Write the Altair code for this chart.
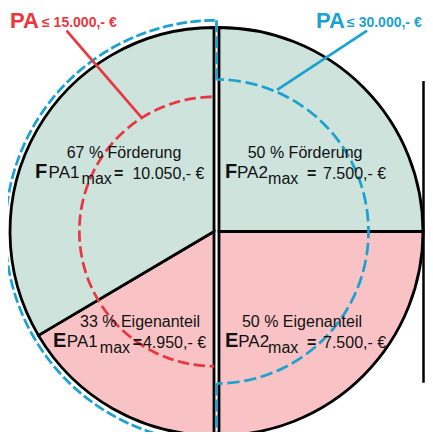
import math
import altair as alt
import pandas as pd

# ---------------- data ----------------
programmes = ["PA1", "PA2"]
pa_limits = ["15.000,- €", "30.000,- €"]
foerder_pct = [67, 50]
eigen_pct = [33, 50]
foerder_max = ["10.050,- €", "7.500,- €"]
eigen_max = ["4.950,- €", "7.500,- €"]

# ---------------- style / layout ----------------
W, H = 417, 424        # keep the page free of scrollbars
UNIT = 204.0           # px per unit radius
CX, CY = 208.5, 223.5  # svg position of the circle's middle
HALF = 2.5 / UNIT      # half gap between the two half discs
GREEN, PINK = "#cde3dc", "#f9c3c6"
RED, BLUE, INK = "#e8373f", "#1ba2d0", "#111111"
FONT = "Liberation Sans"

R_RED, R_BLUE_IN, R_BLUE_OUT = 0.66, 0.745, 1.035

xs = alt.Scale(domain=[-CX / UNIT, (W - CX) / UNIT], nice=False, zero=False)
ys = alt.Scale(domain=[-(H - CY) / UNIT, CY / UNIT], nice=False, zero=False)
ts = alt.Scale(domain=[0, 100], range=[0, 2 * math.pi])
rs = alt.Scale(type="linear", domain=[0, 1], range=[0, UNIT])

X = lambda f: alt.X(f, scale=xs, axis=None)
Y = lambda f: alt.Y(f, scale=ys, axis=None)

# ---------------- sectors ----------------
seq = [
    ("PA2", "Förderung", foerder_pct[1], GREEN, +1),
    ("PA2", "Eigenanteil", eigen_pct[1], PINK, +1),
    ("PA1", "Eigenanteil", eigen_pct[0], PINK, -1),
    ("PA1", "Förderung", foerder_pct[0], GREEN, -1),
]
rows, t = [], 0.0
for prog, part, pct, col, side in seq:
    share = pct / 2
    rows.append(dict(prog=prog, part=part, t0=t, t1=t + share,
                     cx=side * HALF, cy=0.0, r=1.0, col=col))
    t += share
sectors = pd.DataFrame(rows)

fills = alt.Chart(sectors).mark_arc(stroke="black", strokeWidth=2.8).encode(
    x=X("cx:Q"), y=Y("cy:Q"),
    theta=alt.Theta("t0:Q", scale=ts), theta2="t1:Q",
    radius=alt.Radius("r:Q", scale=rs),
    color=alt.Color("col:N", scale=None),
)


def dashed_arc(cx, r, t0, t1, color, dash, width):
    L = (t1 - t0) / 100 * 2 * math.pi * r * UNIT
    d, g = dash
    p = d + g
    off = ((d - 2 * L) / 2) % (p / 2)
    df = pd.DataFrame([dict(cx=cx, cy=0.0, r=r, r2=r, t0=t0, t1=t1)])
    return alt.Chart(df).mark_arc(
        fillOpacity=0, stroke=color, strokeWidth=width,
        strokeDash=list(dash), strokeDashOffset=off,
    ).encode(
        x=X("cx:Q"), y=Y("cy:Q"),
        theta=alt.Theta("t0:Q", scale=ts), theta2="t1:Q",
        radius=alt.Radius("r:Q", scale=rs), radius2="r2:Q",
    )


red_arc = dashed_arc(-HALF, R_RED, 50, 100, RED, (11, 5), 2.7)
blue_out = dashed_arc(0.0, R_BLUE_OUT, 50, 100, BLUE, (10, 4), 2.7)
blue_in = dashed_arc(0.0, R_BLUE_IN, 0, 50, BLUE, (12, 5), 2.7)

blue_v = alt.Chart(pd.DataFrame([
    dict(x=0.0, y=R_BLUE_OUT, y2=R_BLUE_IN),
    dict(x=0.0, y=-R_BLUE_IN, y2=-R_BLUE_OUT),
])).mark_rule(color=BLUE, strokeWidth=2.7, strokeDash=[12, 4]).encode(
    x=X("x:Q"), y=Y("y:Q"), y2="y2:Q")

pointers = alt.Chart(pd.DataFrame([
    dict(x=-0.735, y=0.985, x2=-0.365, y2=0.556, col=RED),
    dict(x=0.738, y=0.985, x2=0.297, y2=0.694, col=BLUE),
])).mark_rule(strokeWidth=2.7).encode(
    x=X("x:Q"), y=Y("y:Q"), x2="x2:Q", y2="y2:Q",
    color=alt.Color("col:N", scale=None))

side_rule = alt.Chart(pd.DataFrame([dict(x=(W - 1.5 - CX) / UNIT, y=0.738, y2=-0.742)])).mark_rule(
    color="black", strokeWidth=2.5).encode(x=X("x:Q"), y=Y("y:Q"), y2="y2:Q")

# ---------------- texts ----------------
txt = []


def add(x, y, text, size, weight="normal", align="left", col=INK):
    txt.append(dict(x=x, y=y, text=text, size=size, weight=weight, align=align, col=col))


K = 205.0 / UNIT  # text anchors measured against a 205 px unit
quads = [
    (-0.451, 0.3585, -0.885, 0.261, "F", 0, foerder_pct[0], foerder_max[0], "Förderung"),
    (0.432, 0.3585, 0.0415, 0.261, "F", 1, foerder_pct[1], foerder_max[1], "Förderung"),
    (-0.373, -0.466, -0.798, -0.563, "E", 0, eigen_pct[0], eigen_max[0], "Eigenanteil"),
    (0.417, -0.466, 0.0415, -0.563, "E", 1, eigen_pct[1], eigen_max[1], "Eigenanteil"),
]
offs = {0: (0.066, 0.227, 0.385, 0.475), 1: (0.0585, 0.21, 0.40, 0.478)}
for lx, ly, bx, by, letter, pi, pct, amount, part in quads:
    o = offs[pi]
    if letter == "E":
        o = (o[0] + 0.006,) + o[1:]
        if pi == 0:
            o = (0.068, 0.229, 0.39, 0.439)
    add(lx * K, ly * K, f"{pct} % {part}", 16, align="center")
    add(bx * K, by * K, letter, 20, weight="bold")
    add((bx + o[0]) * K, by * K, programmes[pi], 17)
    add((bx + o[1]) * K, (by - 0.028) * K, "max", 16)
    add((bx + o[2]) * K, (by - 0.005) * K, "=", 16, weight="bold")
    add((bx + o[3]) * K, (by - 0.005) * K, amount, 16)

add(-1.007 * K, 0.9975, "PA", 22, weight="bold", col=RED)
add(-0.851 * K, 1.0025, "≤ " + pa_limits[0], 14, weight="bold", col=RED)
add(0.485 * K, 0.9975, "PA", 22, weight="bold", col=BLUE)
add(0.637 * K, 1.0025, "≤ " + pa_limits[1], 14, weight="bold", col=BLUE)

tdf = pd.DataFrame(txt)
text_layers = []
for (w, a), sub in tdf.groupby(["weight", "align"]):
    text_layers.append(
        alt.Chart(sub).mark_text(font=FONT, fontWeight=w, align=a, baseline="alphabetic").encode(
            x=X("x:Q"), y=Y("y:Q"), text="text:N",
            size=alt.Size("size:Q", scale=None),
            color=alt.Color("col:N", scale=None),
        )
    )

chart = alt.layer(
    fills, red_arc, blue_out, blue_in, blue_v, pointers, side_rule, *text_layers
).properties(
    width=W, height=H, padding=0,
    autosize=alt.AutoSizeParams(type="none"),
).configure_view(stroke=None)

chart.save("out.html", embed_options={"renderer": "svg", "actions": False})
